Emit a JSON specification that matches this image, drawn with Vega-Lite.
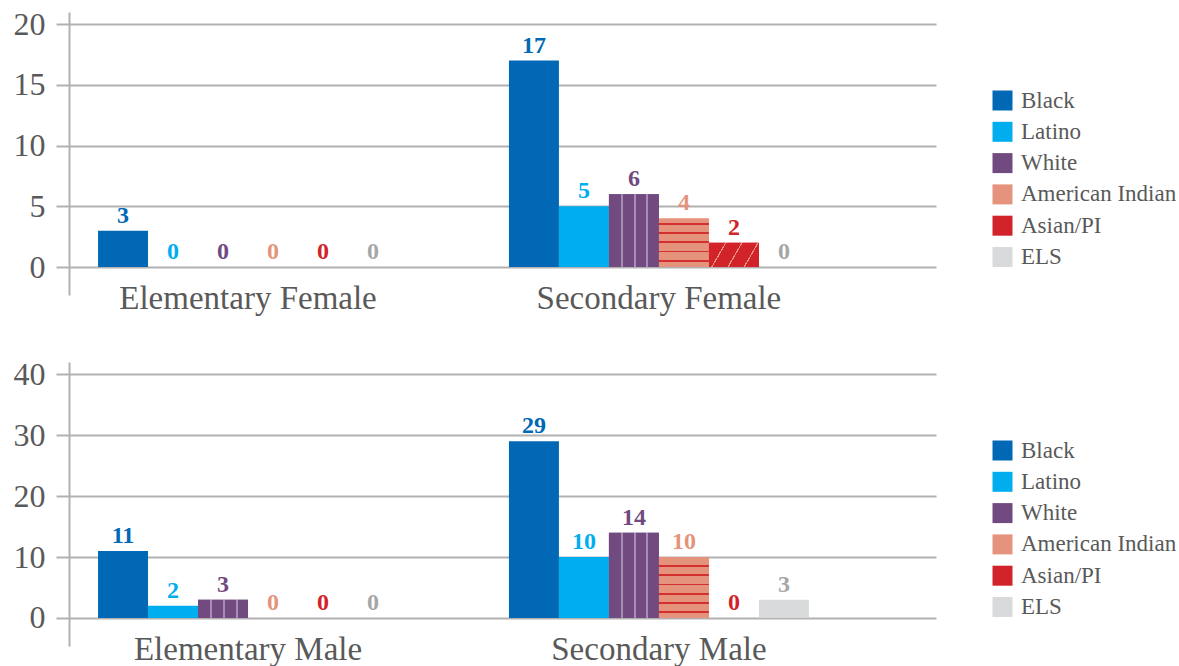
{
  "$schema": "https://vega.github.io/schema/vega-lite/v6.json",
  "background": "white",
  "padding": {"left": 13, "top": 8, "right": 0, "bottom": 0},
  "config": {"view": {"stroke": null}, "font": "Liberation Serif"},
  "data": {"values": [
    {"sex": "Female", "group": "Elementary Female", "race": "Black", "value": 3},
    {"sex": "Female", "group": "Elementary Female", "race": "Latino", "value": 0},
    {"sex": "Female", "group": "Elementary Female", "race": "White", "value": 0},
    {"sex": "Female", "group": "Elementary Female", "race": "American Indian", "value": 0},
    {"sex": "Female", "group": "Elementary Female", "race": "Asian/PI", "value": 0},
    {"sex": "Female", "group": "Elementary Female", "race": "ELS", "value": 0},
    {"sex": "Female", "group": "Secondary Female", "race": "Black", "value": 17},
    {"sex": "Female", "group": "Secondary Female", "race": "Latino", "value": 5},
    {"sex": "Female", "group": "Secondary Female", "race": "White", "value": 6},
    {"sex": "Female", "group": "Secondary Female", "race": "American Indian", "value": 4},
    {"sex": "Female", "group": "Secondary Female", "race": "Asian/PI", "value": 2},
    {"sex": "Female", "group": "Secondary Female", "race": "ELS", "value": 0},
    {"sex": "Male", "group": "Elementary Male", "race": "Black", "value": 11},
    {"sex": "Male", "group": "Elementary Male", "race": "Latino", "value": 2},
    {"sex": "Male", "group": "Elementary Male", "race": "White", "value": 3},
    {"sex": "Male", "group": "Elementary Male", "race": "American Indian", "value": 0},
    {"sex": "Male", "group": "Elementary Male", "race": "Asian/PI", "value": 0},
    {"sex": "Male", "group": "Elementary Male", "race": "ELS", "value": 0},
    {"sex": "Male", "group": "Secondary Male", "race": "Black", "value": 29},
    {"sex": "Male", "group": "Secondary Male", "race": "Latino", "value": 10},
    {"sex": "Male", "group": "Secondary Male", "race": "White", "value": 14},
    {"sex": "Male", "group": "Secondary Male", "race": "American Indian", "value": 10},
    {"sex": "Male", "group": "Secondary Male", "race": "Asian/PI", "value": 0},
    {"sex": "Male", "group": "Secondary Male", "race": "ELS", "value": 3}
  ]},
  "resolve": {"scale": {"color": "independent"}, "legend": {"color": "independent"}},
  "spacing": 43,
  "vconcat": [
    {
      "width": 867, "height": 283,
      "transform": [{"filter": "datum.sex === 'Female'"}],
      "encoding": {
        "x": {"field": "group", "type": "nominal", "sort": null,
          "scale": {"paddingInner": 0.27, "paddingOuter": 0.19, "align": 0.186},
          "axis": {"title": null, "orient": "bottom", "offset": -28, "domain": false, "ticks": false, "labelAngle": 0, "labelFontSize": 33, "labelColor": "#595959", "labelPadding": 15, "labelLimit": 0, "labelFont": "Liberation Serif"}},
        "xOffset": {"field": "race", "type": "nominal", "sort": ["Black", "Latino", "White", "American Indian", "Asian/PI", "ELS"],
          "scale": {"domain": ["Black", "Latino", "White", "American Indian", "Asian/PI", "ELS"], "paddingInner": 0, "paddingOuter": 0}},
        "y": {"field": "value", "type": "quantitative",
          "scale": {"domain": [-2.3, 21], "nice": false, "zero": false},
          "axis": {"title": null, "values": [0, 5, 10, 15, 20], "grid": true, "gridColor": "#b1b1b1", "gridWidth": 2, "domainColor": "#b1b1b1", "domainWidth": 2, "tickColor": "#b1b1b1", "tickWidth": 2, "tickSize": 13, "labelPadding": 11, "labelFontSize": 32, "labelColor": "#595959", "labelFont": "Liberation Serif"}}
      },
      "layer": [
        {"mark": {"type": "bar"},
          "encoding": {"color": {"field": "race", "type": "nominal",
            "scale": {"domain": ["Black", "Latino", "White", "American Indian", "Asian/PI", "ELS"], "range": ["#0068b5", "#00aeef", "#714a80", "#e5937c", "#d2232a", "#d9dadb"]},
            "legend": {"title": null, "orient": "none", "legendX": 922, "legendY": 77, "symbolType": "square", "symbolSize": 400, "symbolStrokeWidth": 0, "labelFontSize": 23, "labelColor": "#595959", "labelOffset": 7, "rowPadding": 7.3, "labelFont": "Liberation Serif"}}}},
        {"transform": [{"filter": "datum.race === 'White' && datum.value > 0"}],
          "mark": {"type": "bar", "fill": {"gradient": "linear", "x1": 0, "y1": 0, "x2": 1, "y2": 0, "stops": [
            {"offset": 0, "color": "#714a80"}, {"offset": 0.245, "color": "#714a80"}, {"offset": 0.245, "color": "#a78cb6"}, {"offset": 0.285, "color": "#a78cb6"}, {"offset": 0.285, "color": "#714a80"},
            {"offset": 0.495, "color": "#714a80"}, {"offset": 0.495, "color": "#a78cb6"}, {"offset": 0.535, "color": "#a78cb6"}, {"offset": 0.535, "color": "#714a80"},
            {"offset": 0.75, "color": "#714a80"}, {"offset": 0.75, "color": "#a78cb6"}, {"offset": 0.79, "color": "#a78cb6"}, {"offset": 0.79, "color": "#714a80"}, {"offset": 1, "color": "#714a80"}]}}},
        {"transform": [{"filter": "datum.race === 'American Indian' && datum.value > 0"}],
          "mark": {"type": "bar", "fill": {"gradient": "linear", "x1": 0, "y1": 0, "x2": 0, "y2": 1, "stops": [
            {"offset": 0, "color": "#e5937c"}, {"offset": 0.09, "color": "#e5937c"}, {"offset": 0.09, "color": "#d4302f"}, {"offset": 0.13, "color": "#d4302f"}, {"offset": 0.13, "color": "#e5937c"},
            {"offset": 0.28, "color": "#e5937c"}, {"offset": 0.28, "color": "#d4302f"}, {"offset": 0.32, "color": "#d4302f"}, {"offset": 0.32, "color": "#e5937c"},
            {"offset": 0.47, "color": "#e5937c"}, {"offset": 0.47, "color": "#d4302f"}, {"offset": 0.51, "color": "#d4302f"}, {"offset": 0.51, "color": "#e5937c"},
            {"offset": 0.66, "color": "#e5937c"}, {"offset": 0.66, "color": "#d4302f"}, {"offset": 0.7, "color": "#d4302f"}, {"offset": 0.7, "color": "#e5937c"},
            {"offset": 0.85, "color": "#e5937c"}, {"offset": 0.85, "color": "#d4302f"}, {"offset": 0.89, "color": "#d4302f"}, {"offset": 0.89, "color": "#e5937c"}, {"offset": 1, "color": "#e5937c"}]}}},
        {"transform": [{"filter": "datum.race === 'Asian/PI' && datum.value > 0"}],
          "mark": {"type": "bar", "fill": {"gradient": "linear", "x1": 0, "y1": 0, "x2": 1, "y2": 0.28, "stops": [
            {"offset": 0, "color": "#d2232a"}, {"offset": 0.3, "color": "#d2232a"}, {"offset": 0.3, "color": "#e9967f"}, {"offset": 0.325, "color": "#e9967f"}, {"offset": 0.325, "color": "#d2232a"},
            {"offset": 0.6, "color": "#d2232a"}, {"offset": 0.6, "color": "#e9967f"}, {"offset": 0.625, "color": "#e9967f"}, {"offset": 0.625, "color": "#d2232a"},
            {"offset": 0.9, "color": "#d2232a"}, {"offset": 0.9, "color": "#e9967f"}, {"offset": 0.925, "color": "#e9967f"}, {"offset": 0.925, "color": "#d2232a"}, {"offset": 1, "color": "#d2232a"}]}}},
        {"mark": {"type": "text", "baseline": "bottom", "dy": -3, "fontWeight": "bold", "fontSize": 24, "font": "Liberation Serif"},
          "encoding": {"text": {"field": "value", "type": "quantitative"},
            "color": {"field": "race", "type": "nominal", "legend": null,
              "scale": {"domain": ["Black", "Latino", "White", "American Indian", "Asian/PI", "ELS"], "range": ["#0068b5", "#00aeef", "#714a80", "#e5937c", "#d2232a", "#a6a6a6"]}}}}
      ],
      "resolve": {"scale": {"color": "independent"}}
    },
    {
      "width": 867, "height": 284,
      "transform": [{"filter": "datum.sex === 'Male'"}],
      "encoding": {
        "x": {"field": "group", "type": "nominal", "sort": null,
          "scale": {"paddingInner": 0.27, "paddingOuter": 0.19, "align": 0.186},
          "axis": {"title": null, "orient": "bottom", "offset": -28, "domain": false, "ticks": false, "labelAngle": 0, "labelFontSize": 33, "labelColor": "#595959", "labelPadding": 15, "labelLimit": 0, "labelFont": "Liberation Serif"}},
        "xOffset": {"field": "race", "type": "nominal", "sort": ["Black", "Latino", "White", "American Indian", "Asian/PI", "ELS"],
          "scale": {"domain": ["Black", "Latino", "White", "American Indian", "Asian/PI", "ELS"], "paddingInner": 0, "paddingOuter": 0}},
        "y": {"field": "value", "type": "quantitative",
          "scale": {"domain": [-4.6, 42], "nice": false, "zero": false},
          "axis": {"title": null, "values": [0, 10, 20, 30, 40], "grid": true, "gridColor": "#b1b1b1", "gridWidth": 2, "domainColor": "#b1b1b1", "domainWidth": 2, "tickColor": "#b1b1b1", "tickWidth": 2, "tickSize": 13, "labelPadding": 11, "labelFontSize": 32, "labelColor": "#595959", "labelFont": "Liberation Serif"}}
      },
      "layer": [
        {"mark": {"type": "bar"},
          "encoding": {"color": {"field": "race", "type": "nominal",
            "scale": {"domain": ["Black", "Latino", "White", "American Indian", "Asian/PI", "ELS"], "range": ["#0068b5", "#00aeef", "#714a80", "#e5937c", "#d2232a", "#d9dadb"]},
            "legend": {"title": null, "orient": "none", "legendX": 922, "legendY": 77, "symbolType": "square", "symbolSize": 400, "symbolStrokeWidth": 0, "labelFontSize": 23, "labelColor": "#595959", "labelOffset": 7, "rowPadding": 7.3, "labelFont": "Liberation Serif"}}}},
        {"transform": [{"filter": "datum.race === 'White' && datum.value > 0"}],
          "mark": {"type": "bar", "fill": {"gradient": "linear", "x1": 0, "y1": 0, "x2": 1, "y2": 0, "stops": [
            {"offset": 0, "color": "#714a80"}, {"offset": 0.245, "color": "#714a80"}, {"offset": 0.245, "color": "#a78cb6"}, {"offset": 0.285, "color": "#a78cb6"}, {"offset": 0.285, "color": "#714a80"},
            {"offset": 0.495, "color": "#714a80"}, {"offset": 0.495, "color": "#a78cb6"}, {"offset": 0.535, "color": "#a78cb6"}, {"offset": 0.535, "color": "#714a80"},
            {"offset": 0.75, "color": "#714a80"}, {"offset": 0.75, "color": "#a78cb6"}, {"offset": 0.79, "color": "#a78cb6"}, {"offset": 0.79, "color": "#714a80"}, {"offset": 1, "color": "#714a80"}]}}},
        {"transform": [{"filter": "datum.race === 'American Indian' && datum.value > 0"}],
          "mark": {"type": "bar", "fill": {"gradient": "linear", "x1": 0, "y1": 0, "x2": 0, "y2": 1, "stops": [
            {"offset": 0, "color": "#e5937c"}, {"offset": 0.135, "color": "#e5937c"}, {"offset": 0.135, "color": "#d4302f"}, {"offset": 0.167, "color": "#d4302f"}, {"offset": 0.167, "color": "#e5937c"},
            {"offset": 0.285, "color": "#e5937c"}, {"offset": 0.285, "color": "#d4302f"}, {"offset": 0.317, "color": "#d4302f"}, {"offset": 0.317, "color": "#e5937c"},
            {"offset": 0.435, "color": "#e5937c"}, {"offset": 0.435, "color": "#d4302f"}, {"offset": 0.467, "color": "#d4302f"}, {"offset": 0.467, "color": "#e5937c"},
            {"offset": 0.585, "color": "#e5937c"}, {"offset": 0.585, "color": "#d4302f"}, {"offset": 0.617, "color": "#d4302f"}, {"offset": 0.617, "color": "#e5937c"},
            {"offset": 0.735, "color": "#e5937c"}, {"offset": 0.735, "color": "#d4302f"}, {"offset": 0.767, "color": "#d4302f"}, {"offset": 0.767, "color": "#e5937c"},
            {"offset": 0.885, "color": "#e5937c"}, {"offset": 0.885, "color": "#d4302f"}, {"offset": 0.917, "color": "#d4302f"}, {"offset": 0.917, "color": "#e5937c"}, {"offset": 1, "color": "#e5937c"}]}}},
        {"mark": {"type": "text", "baseline": "bottom", "dy": -3, "fontWeight": "bold", "fontSize": 24, "font": "Liberation Serif"},
          "encoding": {"text": {"field": "value", "type": "quantitative"},
            "color": {"field": "race", "type": "nominal", "legend": null,
              "scale": {"domain": ["Black", "Latino", "White", "American Indian", "Asian/PI", "ELS"], "range": ["#0068b5", "#00aeef", "#714a80", "#e5937c", "#d2232a", "#a6a6a6"]}}}}
      ],
      "resolve": {"scale": {"color": "independent"}}
    }
  ]
}
